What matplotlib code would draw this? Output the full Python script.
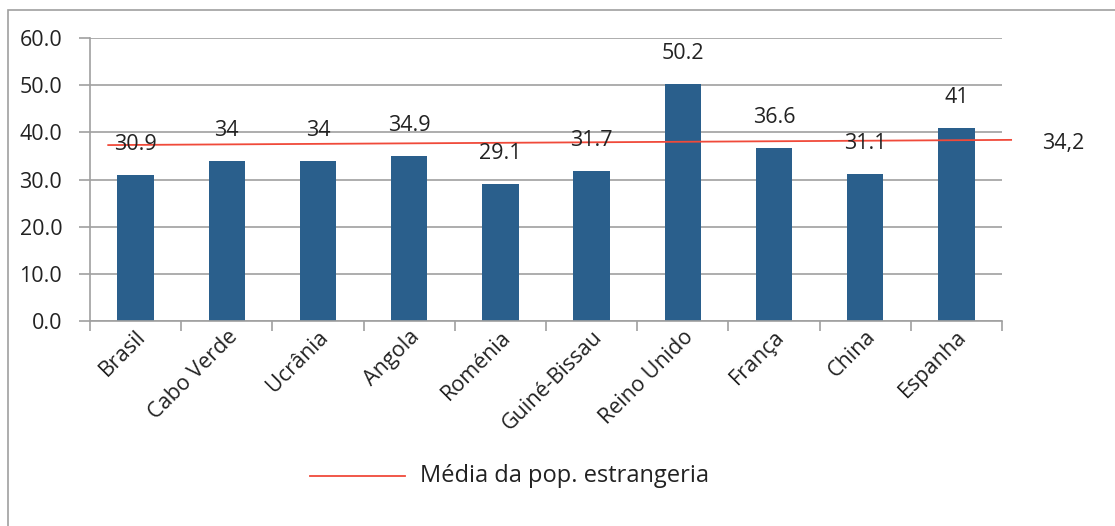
import numpy as np
import matplotlib.pyplot as plt
import matplotlib.transforms as mtransforms
from matplotlib.patches import Rectangle

paises = ['Brasil', 'Cabo Verde', 'Ucrânia', 'Angola', 'Roménia',
          'Guiné-Bissau', 'Reino Unido', 'França', 'China', 'Espanha']
valores = [30.9, 34, 34, 34.9, 29.1, 31.7, 50.2, 36.6, 31.1, 41]
rotulos = ['30.9', '34', '34', '34.9', '29.1', '31.7', '50.2', '36.6', '31.1', '41']
media_txt = '34,2'
# linha desenhada à mão no original (ligeiramente inclinada)
media_x = [-0.3, 9.6]
media_y = [37.3, 38.4]

plt.rcParams['font.family'] = ['Open Sans', 'DejaVu Sans']
cor_barra = '#2a5f8c'
cinza = '#a0a0a0'
cor_txt = '#222222'
fs = 15.5

fig = plt.figure(figsize=(11.15, 5.26), dpi=100)
ax = fig.add_axes([90 / 1115, 1 - 321 / 526, 912 / 1115, 283 / 526])

x = np.arange(len(paises))
ax.bar(x, valores, width=0.4, color=cor_barra, zorder=2)
for xi, v, r in zip(x, valores, rotulos):
    ax.annotate(r, (xi, v), xytext=(0, 22), textcoords='offset points',
                ha='center', va='center', fontsize=fs, color=cor_txt, zorder=4)

ax.plot(media_x, media_y, color='#f04a3a', lw=1.3, zorder=3, clip_on=False)
ax.text(1063 / 1115, 1 - 143 / 526, media_txt, transform=fig.transFigure,
        ha='center', va='center', fontsize=fs, color=cor_txt)

ax.set_xlim(-0.5, 9.5)
ax.set_ylim(0, 60)
ax.set_yticks(np.arange(0, 61, 10))
ax.set_yticklabels(['%.1f' % t for t in np.arange(0, 61, 10)], fontsize=fs, color=cor_txt)
ax.yaxis.grid(True, color=cinza, lw=1.2, zorder=0)
ax.set_axisbelow(True)

ax.set_xticks(np.arange(-0.5, 10, 1))
ax.set_xticklabels([])
ax.set_xticks(x, minor=True)
ax.set_xticklabels(paises, minor=True, rotation=45, ha='right', va='top',
                   rotation_mode='anchor', fontsize=fs, color=cor_txt)
desloc = mtransforms.ScaledTranslation(9 / 100, 0, fig.dpi_scale_trans)
for lb in ax.get_xticklabels(minor=True):
    lb.set_transform(lb.get_transform() + desloc)
ax.tick_params(axis='x', which='minor', length=0, pad=4)
ax.tick_params(axis='x', which='major', length=7, color=cinza, width=1.2)
ax.tick_params(axis='y', length=8, color=cinza, width=1.2, pad=12)

for s in ['top', 'right']:
    ax.spines[s].set_visible(False)
for s in ['left', 'bottom']:
    ax.spines[s].set_color(cinza)
    ax.spines[s].set_linewidth(1.2)

# legenda
fig.add_artist(plt.Line2D([310 / 1115, 405 / 1115], [1 - 476 / 526] * 2,
                          color='#f04a3a', lw=1.3, transform=fig.transFigure))
fig.text(420 / 1115, 1 - 476 / 526, 'Média da pop. estrangeria',
         ha='left', va='center', fontsize=17, color=cor_txt)

# moldura do gráfico
fig.add_artist(Rectangle((8 / 1115, -0.05), 1.2, 1 - 10 / 526 + 0.05,
                         transform=fig.transFigure, fill=False,
                         edgecolor=cinza, lw=1.2))

fig.savefig('out.png', dpi=100)
